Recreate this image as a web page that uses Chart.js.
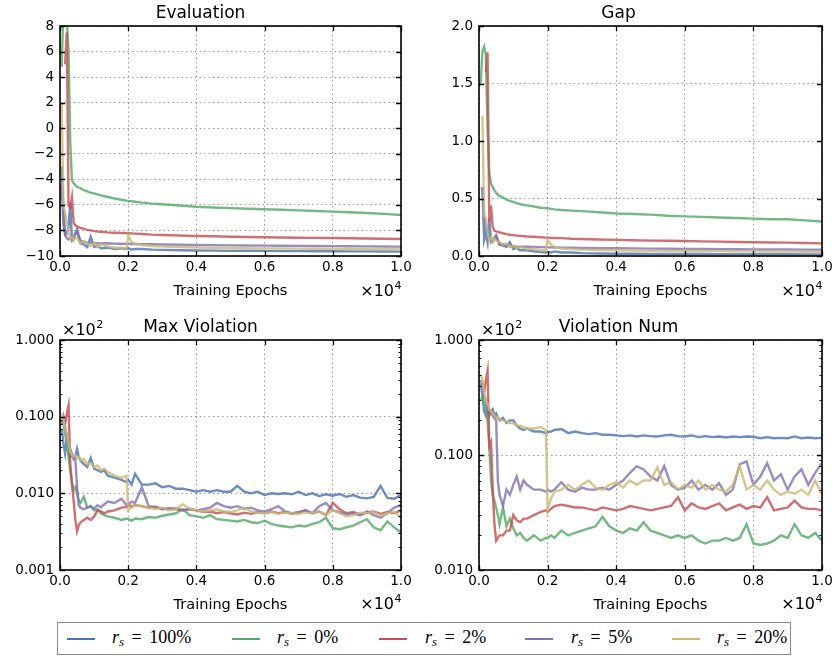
<!DOCTYPE html>
<html>
<head>
<meta charset="utf-8">
<script src="https://cdn.jsdelivr.net/npm/chart.js@4.4.0/dist/chart.umd.min.js"></script>
<style>
  body { margin: 0; background: #fff; }
  #page { position: relative; width: 835px; height: 656px; overflow: hidden; background: #fff; }
  canvas { position: absolute; }
  #legend { position: absolute; left: 57px; top: 622px; width: 732px; height: 31px; border: 1px solid #8c8c8c; }
  .sw { position: absolute; top: 15px; width: 28px; height: 2px; }
  .lbl { position: absolute; top: 4px; font-family: "Liberation Serif", serif; font-size: 18px; line-height: 20px; word-spacing: 3px; white-space: nowrap; color: #000; }
  .lbl sub { font-size: 13px; vertical-align: -3px; line-height: 0; }
</style>
</head>
<body>
<div id="page">
  <canvas id="cEval"></canvas>
  <canvas id="cGap"></canvas>
  <canvas id="cMax"></canvas>
  <canvas id="cNum"></canvas>
  <div id="legend"></div>
</div>
<script>
// series: r_s values and colours (seaborn deep)
const RS_VALUES = ["100%", "0%", "2%", "5%", "20%"];
const COLORS = ["#4C72B0", "#55A868", "#C44E52", "#8172B2", "#CCB974"];

// x tick labels (axis shown in units of 1e4 epochs)
const X_TICKS = ["0.0", "0.2", "0.4", "0.6", "0.8", "1.0"];
const LOG_TICKS_MAX = [0.001, 0.01, 0.1, 1];
const LOG_TICKS_NUM = [0.01, 0.1, 1];

// epochs sampled for the top row (Evaluation, Gap)
const EPOCHS_TOP = [50, 100, 150, 200, 250, 300, 350, 400, 450, 500,
  600, 700, 800, 900, 1000, 1100, 1200, 1400, 1600, 1800,
  1950, 2000, 2100, 2200, 2400, 2700, 3000,
  3500, 4000, 4500, 5000, 5500, 6000, 6500, 7000, 7500, 8000, 8500, 9000, 9500, 10000];

const EVAL_R100 = [-3.0, -6.5, -8.3, -8.2, -7.8, -5.8, -8.8, -8.7, -8.3, -7.9,
  -9.0, -9.1, -9.3, -8.5, -9.3, -9.2, -9.4, -9.35, -9.45, -9.4,
  -9.45, -9.4, -9.5, -9.45, -9.45, -9.5, -9.52,
  -9.55, -9.57, -9.58, -9.6, -9.58, -9.6, -9.62, -9.62, -9.63, -9.63, -9.64, -9.64, -9.65, -9.66];
const EVAL_R0 = [4.8, 9.5, 9.5, 8.5, 6.0, -1.0, -4.1, -4.3, -4.45, -4.58,
  -4.7, -4.85, -4.95, -5.05, -5.1, -5.18, -5.25, -5.38, -5.5, -5.6,
  -5.67, -5.69, -5.72, -5.75, -5.82, -5.9, -5.95,
  -6.05, -6.14, -6.2, -6.25, -6.3, -6.34, -6.38, -6.43, -6.48, -6.53, -6.58, -6.63, -6.7, -6.79];
const EVAL_R2 = [null, null, 5.0, 7.5, -6.0, -6.2, -5.4, -7.4, -7.6, -7.7,
  -7.8, -7.88, -7.95, -8.0, -8.05, -8.08, -8.1, -8.15, -8.18, -8.2,
  -8.22, -8.22, -8.23, -8.25, -8.28, -8.33, -8.36,
  -8.4, -8.43, -8.46, -8.49, -8.51, -8.53, -8.55, -8.57, -8.58, -8.59, -8.61, -8.63, -8.65, -8.67];
const EVAL_R5 = [-4.5, -7.5, -8.3, -8.6, -8.7, -8.6, -8.4, -8.6, -8.2, -8.1,
  -8.8, -8.9, -8.95, -8.95, -9.0, -9.0, -9.02, -9.0, -9.03, -9.04,
  -9.05, -9.05, -9.06, -9.06, -9.07, -9.08, -9.1,
  -9.12, -9.14, -9.15, -9.17, -9.18, -9.19, -9.2, -9.21, -9.22, -9.23, -9.24, -9.25, -9.26, -9.27];
const EVAL_R20 = [2.0, -6.0, -6.6, -7.4, -8.2, -8.6, -8.5, -8.8, -8.5, -8.6,
  -9.0, -8.8, -9.0, -9.2, -9.0, -9.3, -9.1, -9.25, -9.35, -9.35,
  -9.4, -8.4, -8.9, -9.05, -9.15, -9.22, -9.27,
  -9.3, -9.33, -9.35, -9.37, -9.38, -9.4, -9.41, -9.42, -9.43, -9.44, -9.45, -9.45, -9.46, -9.47];

const GAP_R100 = [null, 0.6, 0.14, 0.2, 0.12, 0.33, 0.12, 0.13, 0.15, 0.17,
  0.1, 0.09, 0.08, 0.12, 0.06, 0.07, 0.05, 0.05, 0.04, 0.035,
  0.03, 0.035, 0.03, 0.04, 0.03, 0.03, 0.025,
  0.022, 0.02, 0.02, 0.018, 0.018, 0.017, 0.017, 0.016, 0.016, 0.015, 0.015, 0.015, 0.014, 0.014];
const GAP_R0 = [1.5, 1.78, 1.82, 1.75, 1.1, 0.72, 0.63, 0.6, 0.57, 0.55,
  0.52, 0.51, 0.49, 0.48, 0.47, 0.46, 0.45, 0.44, 0.43, 0.42,
  0.415, 0.415, 0.41, 0.405, 0.4, 0.395, 0.39,
  0.38, 0.37, 0.365, 0.36, 0.35, 0.345, 0.34, 0.335, 0.33, 0.325, 0.32, 0.32, 0.31, 0.30];
const GAP_R2 = [null, null, null, 1.6, 1.77, 0.3, 0.44, 0.25, 0.22, 0.215,
  0.205, 0.198, 0.19, 0.185, 0.182, 0.178, 0.175, 0.17, 0.167, 0.163,
  0.16, 0.16, 0.158, 0.157, 0.155, 0.15, 0.148,
  0.143, 0.14, 0.137, 0.134, 0.132, 0.13, 0.127, 0.125, 0.122, 0.12, 0.118, 0.116, 0.113, 0.11];
const GAP_R5 = [null, 0.6, 0.35, 0.25, 0.2, 0.16, 0.15, 0.13, 0.16, 0.18,
  0.1, 0.1, 0.09, 0.085, 0.085, 0.08, 0.08, 0.08, 0.078, 0.077,
  0.075, 0.075, 0.075, 0.074, 0.073, 0.072, 0.07,
  0.068, 0.067, 0.066, 0.064, 0.063, 0.062, 0.061, 0.06, 0.059, 0.058, 0.057, 0.056, 0.055, 0.054];
const GAP_R20 = [null, 1.22, 0.35, 0.33, 0.2, 0.14, 0.16, 0.12, 0.15, 0.13,
  0.12, 0.1, 0.11, 0.08, 0.09, 0.07, 0.08, 0.06, 0.065, 0.05,
  0.05, 0.14, 0.1, 0.08, 0.065, 0.06, 0.055,
  0.052, 0.05, 0.048, 0.046, 0.045, 0.044, 0.043, 0.042, 0.041, 0.04, 0.039, 0.038, 0.037, 0.036];

// epochs sampled for the bottom row (Max Violation, Violation Num), values in units of 1e2
const EPOCHS_BOTTOM = [50, 100, 150, 200, 250, 300, 350, 400, 450, 500, 550, 600,
  700, 800, 900, 1000, 1100, 1200, 1300, 1400,
  1600, 1800, 1950, 2000, 2100, 2200,
  2400, 2600, 2800, 3000, 3200, 3400, 3600, 3800, 4000,
  4200, 4400, 4600, 4800, 5000, 5200, 5400, 5600, 5800, 6000,
  6200, 6400, 6600, 6800, 7000, 7200, 7400, 7600, 7800, 8000,
  8200, 8400, 8600, 8800, 9000, 9200, 9400, 9600, 9800, 10000];

const MAX_R100 = [0.07, 0.045, 0.033, 0.05, 0.04, 0.03, 0.032, 0.028, 0.03, 0.038, 0.03, 0.027,
  0.024, 0.022, 0.029, 0.021, 0.02, 0.019, 0.02, 0.017,
  0.016, 0.015, 0.014, 0.015, 0.013, 0.018,
  0.013, 0.013, 0.0135, 0.012, 0.0125, 0.0115, 0.0115, 0.011, 0.0105,
  0.011, 0.0105, 0.011, 0.0105, 0.0105, 0.0125, 0.0105, 0.01, 0.0105, 0.0095,
  0.01, 0.0098, 0.01, 0.0097, 0.0105, 0.0095, 0.01, 0.0092, 0.0097, 0.0093,
  0.0098, 0.009, 0.0095, 0.0088, 0.0086, 0.009, 0.0125, 0.0087, 0.0085, 0.0095];
const MAX_R0 = [0.09, 0.08, 0.06, 0.045, 0.03, 0.02, 0.014, 0.011, 0.012, 0.01, 0.008, 0.0075,
  0.009, 0.0065, 0.0068, 0.006, 0.0062, 0.0055, 0.0052, 0.005,
  0.0048, 0.0045, 0.0047, 0.0046, 0.0044, 0.0047,
  0.0046, 0.0049, 0.0048, 0.0051, 0.0053, 0.0055, 0.0062, 0.0052, 0.005,
  0.0048, 0.0052, 0.0046, 0.0045, 0.0044, 0.0043, 0.0045, 0.0042, 0.0041, 0.0044,
  0.004, 0.0038, 0.0037, 0.0036, 0.0038, 0.0037, 0.004, 0.0042, 0.0048, 0.0035,
  0.0034, 0.0036, 0.0038, 0.0042, 0.0046, 0.0036, 0.0033, 0.0043, 0.0036, 0.0031];
const MAX_R2 = [null, null, 0.08, 0.11, 0.14, 0.025, 0.013, 0.008, 0.0045, 0.0032, 0.0038, 0.0042,
  0.0045, 0.0048, 0.0045, 0.005, 0.006, 0.0058, 0.0055, 0.0058,
  0.006, 0.0065, 0.0066, 0.007, 0.0068, 0.007,
  0.0068, 0.0065, 0.0067, 0.0062, 0.0064, 0.0062, 0.006, 0.0062, 0.006,
  0.0057, 0.0058, 0.0055, 0.0057, 0.0055, 0.0053, 0.0056, 0.0054, 0.0057, 0.0055,
  0.0058, 0.0055, 0.0057, 0.0054, 0.0056, 0.006, 0.0055, 0.0058, 0.0052, 0.0075,
  0.0062, 0.0055, 0.0057, 0.0053, 0.0056, 0.0058, 0.0054, 0.0057, 0.0055, 0.006];
const MAX_R5 = [0.08, 0.1, 0.075, 0.055, 0.045, 0.038, 0.033, 0.03, 0.028, 0.012, 0.007, 0.0065,
  0.0062, 0.0065, 0.0068, 0.0063, 0.007, 0.0066, 0.0072, 0.0078,
  0.0075, 0.0085, 0.007, 0.0072, 0.0078, 0.0075,
  0.012, 0.0068, 0.0066, 0.0063, 0.0062, 0.0064, 0.006, 0.0063, 0.006,
  0.0062, 0.0065, 0.0075, 0.0068, 0.0065, 0.0068, 0.0063, 0.0065, 0.006, 0.0058,
  0.0062, 0.0068, 0.0058, 0.0055, 0.0057, 0.006, 0.0055, 0.0068, 0.0075, 0.006,
  0.0057, 0.0053, 0.0055, 0.0052, 0.0058, 0.0052, 0.0048, 0.0055, 0.0065, 0.007];
const MAX_R20 = [0.11, 0.09, 0.07, 0.06, 0.045, 0.035, 0.032, 0.03, 0.031, 0.029, 0.03, 0.027,
  0.028, 0.024, 0.025, 0.022, 0.023, 0.02, 0.021, 0.019,
  0.017, 0.016, 0.017, 0.006, 0.0065, 0.007,
  0.0068, 0.0065, 0.0062, 0.0065, 0.006, 0.0062, 0.0072, 0.0063, 0.006,
  0.0058, 0.006, 0.0062, 0.0058, 0.0057, 0.006, 0.0065, 0.0058, 0.0056, 0.0055,
  0.0057, 0.0054, 0.0056, 0.0055, 0.0054, 0.0056, 0.0055, 0.0058, 0.0052, 0.006,
  0.0055, 0.005, 0.0052, 0.0056, 0.0055, 0.0057, 0.0051, 0.0055, 0.0058, 0.0048];

const NUM_R100 = [0.42, 0.33, 0.24, 0.22, 0.26, 0.22, 0.24, 0.25, 0.22, 0.23, 0.21, 0.2,
  0.21, 0.19, 0.2, 0.2, 0.18, 0.17, 0.165, 0.17,
  0.16, 0.16, 0.155, 0.158, 0.16, 0.165,
  0.168, 0.155, 0.16, 0.155, 0.152, 0.155, 0.15, 0.15, 0.148,
  0.146, 0.148, 0.145, 0.148, 0.146, 0.145, 0.148, 0.15, 0.146, 0.145,
  0.148, 0.143, 0.146, 0.143, 0.145, 0.142, 0.145, 0.143, 0.145, 0.144,
  0.14, 0.143, 0.14, 0.141, 0.14, 0.145, 0.14, 0.142, 0.14, 0.141];
const NUM_R0 = [0.3, 0.32, 0.28, 0.26, 0.2, 0.12, 0.06, 0.045, 0.04, 0.035, 0.03, 0.025,
  0.035, 0.024, 0.028, 0.023, 0.02, 0.021, 0.019, 0.018,
  0.02, 0.018, 0.019, 0.019, 0.02, 0.019,
  0.022, 0.02, 0.021, 0.022, 0.023, 0.024, 0.029, 0.024, 0.022,
  0.021, 0.023, 0.022, 0.026, 0.022, 0.021, 0.02, 0.019, 0.02, 0.019,
  0.02, 0.018, 0.017, 0.018, 0.018, 0.019, 0.018, 0.019, 0.025, 0.017,
  0.0165, 0.017, 0.018, 0.02, 0.019, 0.025, 0.02, 0.019, 0.021, 0.018];
const NUM_R2 = [null, null, 0.35, 0.45, 0.54, 0.12, 0.13, 0.05, 0.025, 0.018, 0.019, 0.02,
  0.02, 0.022, 0.022, 0.03, 0.027, 0.026, 0.028, 0.028,
  0.03, 0.032, 0.033, 0.032, 0.034, 0.036,
  0.037, 0.036, 0.035, 0.035, 0.034, 0.033, 0.035, 0.034, 0.033,
  0.034, 0.036, 0.035, 0.034, 0.033, 0.034, 0.035, 0.036, 0.043, 0.033,
  0.038, 0.035, 0.034, 0.036, 0.038, 0.033, 0.035, 0.037, 0.034, 0.036,
  0.035, 0.043, 0.033, 0.034, 0.035, 0.04, 0.035, 0.034, 0.034, 0.033];
const NUM_R5 = [0.45, 0.4, 0.32, 0.3, 0.26, 0.25, 0.23, 0.22, 0.21, 0.2, 0.06, 0.045,
  0.036, 0.05, 0.045, 0.055, 0.065, 0.05, 0.06, 0.055,
  0.05, 0.05, 0.048, 0.05, 0.048, 0.05,
  0.058, 0.05, 0.048, 0.052, 0.05, 0.05, 0.052, 0.05, 0.055,
  0.06, 0.07, 0.08, 0.075, 0.065, 0.06, 0.08, 0.055, 0.05, 0.052,
  0.06, 0.05, 0.055, 0.05, 0.057, 0.045, 0.05, 0.083, 0.088, 0.055,
  0.065, 0.085, 0.06, 0.068, 0.05, 0.065, 0.075, 0.055, 0.07, 0.085];
const NUM_R20 = [0.5, 0.45, 0.35, 0.3, 0.28, 0.25, 0.24, 0.23, 0.22, 0.215, 0.21, 0.2,
  0.2, 0.195, 0.19, 0.19, 0.18, 0.18, 0.175, 0.17,
  0.17, 0.175, 0.165, 0.033, 0.042, 0.048,
  0.05, 0.055, 0.05, 0.055, 0.06, 0.052, 0.05, 0.055, 0.058,
  0.052, 0.06, 0.055, 0.06, 0.06, 0.078, 0.055, 0.058, 0.05, 0.055,
  0.052, 0.06, 0.05, 0.055, 0.05, 0.048, 0.055, 0.08, 0.05, 0.055,
  0.05, 0.06, 0.05, 0.045, 0.048, 0.046, 0.05, 0.045, 0.06, 0.045];

// legend layout (x inside the legend box)
const LEGEND_SWATCH_X = [9, 174, 321, 467, 614];
const LEGEND_TEXT_X = [54, 219, 367, 513, 659];

const FONT = '"DejaVu Sans", sans-serif';

function minusFmt(v) {
  return v < 0 ? "\u2212" + Math.abs(v) : String(v);
}

function drawPow(ctx, base, exp, x, y, align) {
  ctx.font = "16px " + FONT;
  const wb = ctx.measureText(base).width;
  ctx.font = "11px " + FONT;
  const we = ctx.measureText(exp).width;
  const x0 = align === "right" ? x - wb - we : x;
  ctx.textAlign = "left";
  ctx.font = "16px " + FONT;
  ctx.fillText(base, x0, y);
  ctx.font = "11px " + FONT;
  ctx.fillText(exp, x0 + wb + 0.5, y - 7);
}

// frame, inward ticks (matplotlib classic look) and offset labels
const decor = {
  id: "decor",
  afterDraw(chart, args, opts) {
    const { ctx, chartArea: a } = chart;
    const xs = chart.scales.x, ys = chart.scales.y;
    ctx.save();
    ctx.strokeStyle = "#000";
    ctx.lineWidth = 1.3;
    ctx.beginPath();
    xs.ticks.forEach(t => {
      const p = Math.round(xs.getPixelForValue(t.value)) + 0.5;
      ctx.moveTo(p, a.bottom); ctx.lineTo(p, a.bottom - 5);
      ctx.moveTo(p, a.top); ctx.lineTo(p, a.top + 5);
    });
    ys.ticks.forEach(t => {
      const p = Math.round(ys.getPixelForValue(t.value)) + 0.5;
      ctx.moveTo(a.left, p); ctx.lineTo(a.left + 5, p);
      ctx.moveTo(a.right, p); ctx.lineTo(a.right - 5, p);
    });
    ctx.stroke();
    if (ys.type === "logarithmic") {
      ctx.lineWidth = 1;
      ctx.beginPath();
      for (let d = ys.min; d < ys.max * 0.999; d *= 10) {
        for (let k = 2; k <= 9; k++) {
          const p = Math.round(ys.getPixelForValue(d * k)) + 0.5;
          ctx.moveTo(a.left, p); ctx.lineTo(a.left + 2.5, p);
          ctx.moveTo(a.right, p); ctx.lineTo(a.right - 2.5, p);
        }
      }
      ctx.stroke();
    }
    ctx.lineWidth = 1.6;
    ctx.strokeRect(a.left, a.top, a.width, a.height);
    ctx.fillStyle = "#000";
    ctx.textBaseline = "alphabetic";
    drawPow(ctx, "\u00d710", "4", a.right, a.bottom + opts.xExpDy, "right");
    if (opts.yExp) drawPow(ctx, "\u00d710", opts.yExp, a.left + 2, a.top - 5, "left");
    ctx.restore();
  }
};

function datasets(epochs, series) {
  return series.map((vals, i) => ({
    label: "r_s = " + RS_VALUES[i],
    data: epochs.map((e, j) => ({ x: e, y: vals[j] })),
    borderColor: COLORS[i] + "d0",
    borderWidth: 2.4,
    pointRadius: 0,
    tension: 0,
    fill: false,
    spanGaps: false,
    order: series.length - i
  }));
}

function makeChart(p) {
  const cv = document.getElementById(p.id);
  cv.width = p.w; cv.height = p.h;
  cv.style.left = p.left + "px"; cv.style.top = p.top + "px";
  const yScale = {
    type: p.log ? "logarithmic" : "linear",
    min: p.ymin, max: p.ymax,
    ticks: {
      color: "#000", font: { family: FONT, size: 13.5 }, padding: 6,
      callback: p.yFmt
    },
    grid: { drawTicks: false, color: "rgba(0,0,0,0.38)", lineWidth: 1 },
    border: { display: false, dash: [1.5, 3] },
    afterFit: s => { s.width = p.plotLeft; s.paddingTop = 0; s.paddingBottom = 0; }
  };
  if (p.log) {
    yScale.afterBuildTicks = s => { s.ticks = p.logTicks.map(v => ({ value: v })); };
  } else {
    yScale.ticks.stepSize = p.ystep;
  }
  return new Chart(cv.getContext("2d"), {
    type: "line",
    data: { datasets: datasets(p.epochs, p.series) },
    options: {
      responsive: false,
      animation: false,
      events: [],
      layout: { padding: { left: 0, right: p.w - p.plotRight, top: 0, bottom: p.h - p.plotBottom - 48 } },
      plugins: {
        legend: { display: false },
        tooltip: { enabled: false },
        title: {
          display: true, text: p.title, color: "#000",
          font: { family: FONT, size: 17, weight: "normal" },
          padding: { top: p.titleTop, bottom: p.plotTop - 20.4 - p.titleTop }
        },
        decor: { xExpDy: p.xExpDy, yExp: p.yExp }
      },
      scales: {
        x: {
          type: "linear", min: 0, max: 10000,
          ticks: {
            stepSize: 2000, color: "#000", font: { family: FONT, size: 13.5 }, padding: 3,
            maxRotation: 0, autoSkip: false,
            callback: v => X_TICKS[Math.round(v / 2000)]
          },
          grid: { drawTicks: false, color: "rgba(0,0,0,0.38)", lineWidth: 1 },
          border: { display: false, dash: [1.5, 3] },
          title: {
            display: true, text: "Training Epochs", color: "#000",
            font: { family: FONT, size: 14.5 }, padding: { top: 0, bottom: 4 }
          },
          afterFit: s => { s.height = 48; s.paddingLeft = 0; s.paddingRight = 0; }
        },
        y: yScale
      }
    },
    plugins: [decor]
  });
}

makeChart({
  id: "cEval", left: 0, top: 0, w: 415, h: 305,
  plotLeft: 60, plotRight: 401, plotTop: 26, plotBottom: 256, titleTop: 3.5,
  title: "Evaluation", ymin: -10, ymax: 8, ystep: 2, yFmt: minusFmt,
  epochs: EPOCHS_TOP, series: [EVAL_R100, EVAL_R0, EVAL_R2, EVAL_R5, EVAL_R20], xExpDy: 40
});
makeChart({
  id: "cGap", left: 415, top: 0, w: 420, h: 305,
  plotLeft: 64, plotRight: 407, plotTop: 26, plotBottom: 256, titleTop: 3.5,
  title: "Gap", ymin: 0, ymax: 2, ystep: 0.5, yFmt: v => v.toFixed(1),
  epochs: EPOCHS_TOP, series: [GAP_R100, GAP_R0, GAP_R2, GAP_R5, GAP_R20], xExpDy: 40
});
makeChart({
  id: "cMax", left: 0, top: 305, w: 415, h: 315,
  plotLeft: 60, plotRight: 401, plotTop: 35, plotBottom: 265, titleTop: 12,
  title: "Max Violation", log: true, ymin: 0.001, ymax: 1, logTicks: LOG_TICKS_MAX,
  yFmt: v => Number(v).toFixed(3), yExp: "2",
  epochs: EPOCHS_BOTTOM, series: [MAX_R100, MAX_R0, MAX_R2, MAX_R5, MAX_R20], xExpDy: 39
});
makeChart({
  id: "cNum", left: 415, top: 305, w: 420, h: 315,
  plotLeft: 64, plotRight: 407, plotTop: 35, plotBottom: 265, titleTop: 12,
  title: "Violation Num", log: true, ymin: 0.01, ymax: 1, logTicks: LOG_TICKS_NUM,
  yFmt: v => Number(v).toFixed(3), yExp: "2",
  epochs: EPOCHS_BOTTOM, series: [NUM_R100, NUM_R0, NUM_R2, NUM_R5, NUM_R20], xExpDy: 39
});

// shared legend
const legend = document.getElementById("legend");
RS_VALUES.forEach((v, i) => {
  const sw = document.createElement("div");
  sw.className = "sw";
  sw.style.left = LEGEND_SWATCH_X[i] + "px";
  sw.style.background = COLORS[i];
  legend.appendChild(sw);
  const lbl = document.createElement("span");
  lbl.className = "lbl";
  lbl.style.left = LEGEND_TEXT_X[i] + "px";
  lbl.innerHTML = "<i>r</i><sub><i>s</i></sub> = " + v;
  legend.appendChild(lbl);
});
</script>
</body>
</html>
